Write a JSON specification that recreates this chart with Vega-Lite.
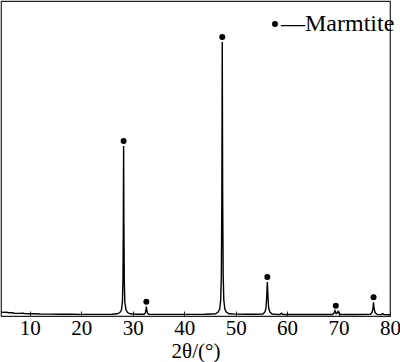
{
  "$schema": "https://vega.github.io/schema/vega-lite/v6.json",
  "width": 389,
  "height": 315,
  "autosize": "none",
  "padding": {"left": 1, "top": 1, "right": 10, "bottom": 46},
  "background": "white",
  "datasets": {
    "profile": [
      {"t": 4.4, "i": 4.0}, {"t": 4.8, "i": 3.6}, {"t": 5.3, "i": 3.7}, {"t": 6, "i": 3.2}, {"t": 6.6, "i": 3.3},
      {"t": 7, "i": 2.8}, {"t": 8, "i": 2.6}, {"t": 8.7, "i": 2.8}, {"t": 9, "i": 2.4}, {"t": 10, "i": 2.2},
      {"t": 11, "i": 2.2}, {"t": 12, "i": 2.0}, {"t": 14, "i": 1.9}, {"t": 16, "i": 1.8}, {"t": 18, "i": 1.7},
      {"t": 20, "i": 1.6}, {"t": 22, "i": 1.6}, {"t": 24, "i": 1.6}, {"t": 26, "i": 1.8}, {"t": 27.0, "i": 2.2},
      {"t": 27.5, "i": 3.5}, {"t": 27.8, "i": 6}, {"t": 28.0, "i": 14}, {"t": 28.1, "i": 35}, {"t": 28.17, "i": 90},
      {"t": 28.23, "i": 170}, {"t": 28.29, "i": 90}, {"t": 28.36, "i": 35}, {"t": 28.46, "i": 14}, {"t": 28.7, "i": 6},
      {"t": 29.0, "i": 3.5}, {"t": 29.5, "i": 2.2}, {"t": 30, "i": 2.0}, {"t": 31, "i": 1.8}, {"t": 32.2, "i": 1.7},
      {"t": 32.45, "i": 3}, {"t": 32.58, "i": 6}, {"t": 32.65, "i": 9.3}, {"t": 32.72, "i": 6}, {"t": 32.85, "i": 3},
      {"t": 33.1, "i": 1.7}, {"t": 35, "i": 1.6}, {"t": 38, "i": 1.6}, {"t": 41, "i": 1.6}, {"t": 44, "i": 1.7},
      {"t": 46.1, "i": 2.2}, {"t": 46.6, "i": 4}, {"t": 46.9, "i": 7}, {"t": 47.1, "i": 16}, {"t": 47.22, "i": 40},
      {"t": 47.32, "i": 120}, {"t": 47.4, "i": 274}, {"t": 47.48, "i": 120}, {"t": 47.58, "i": 40}, {"t": 47.7, "i": 16},
      {"t": 47.9, "i": 7}, {"t": 48.2, "i": 4}, {"t": 48.7, "i": 2.2}, {"t": 50, "i": 1.9}, {"t": 52, "i": 1.7},
      {"t": 54, "i": 1.7}, {"t": 55.3, "i": 2}, {"t": 55.7, "i": 4}, {"t": 55.9, "i": 8}, {"t": 56.03, "i": 18},
      {"t": 56.16, "i": 34}, {"t": 56.29, "i": 18}, {"t": 56.42, "i": 8}, {"t": 56.65, "i": 4}, {"t": 57.1, "i": 2},
      {"t": 58, "i": 1.6}, {"t": 58.6, "i": 1.5}, {"t": 58.9, "i": 2.8}, {"t": 59.2, "i": 1.5}, {"t": 60, "i": 1.5},
      {"t": 63, "i": 1.5}, {"t": 66, "i": 1.5}, {"t": 68.8, "i": 1.5}, {"t": 69.1, "i": 2.8}, {"t": 69.3, "i": 5.3},
      {"t": 69.5, "i": 2.5}, {"t": 69.65, "i": 2.4}, {"t": 69.9, "i": 4.5}, {"t": 70.15, "i": 2}, {"t": 70.5, "i": 1.5},
      {"t": 73, "i": 1.5}, {"t": 76.2, "i": 1.6}, {"t": 76.5, "i": 3.5}, {"t": 76.68, "i": 7}, {"t": 76.8, "i": 13.7},
      {"t": 76.92, "i": 7}, {"t": 77.1, "i": 3.5}, {"t": 77.5, "i": 1.6}, {"t": 78.3, "i": 1.4}, {"t": 78.57, "i": 2.3},
      {"t": 78.85, "i": 1.4}, {"t": 80, "i": 1.3}
    ],
    "peaks": [
      {"t": 28.23, "i": 170, "phase": "—Marmtite"},
      {"t": 32.65, "i": 9.3, "phase": "—Marmtite"},
      {"t": 47.4, "i": 274, "phase": "—Marmtite"},
      {"t": 56.16, "i": 34, "phase": "—Marmtite"},
      {"t": 69.47, "i": 5.3, "phase": "—Marmtite"},
      {"t": 76.8, "i": 13.7, "phase": "—Marmtite"}
    ]
  },
  "layer": [
    {
      "data": {"name": "profile"},
      "mark": {"type": "line", "color": "black", "strokeWidth": 1.4, "clip": true},
      "encoding": {
        "x": {
          "field": "t", "type": "quantitative",
          "scale": {"domain": [4.4, 80], "nice": false, "zero": false},
          "axis": {
            "values": [10, 20, 30, 40, 50, 60, 70, 80],
            "title": "2θ/(°)",
            "grid": false, "domain": false,
            "tickSize": -5, "tickColor": "#222", "tickWidth": 1,
            "labelFont": "Liberation Serif", "labelFontSize": 21, "labelColor": "black",
            "labelPadding": 6, "labelFlush": false, "labelOverlap": false,
            "titleFont": "Liberation Serif", "titleFontSize": 21, "titleFontWeight": "normal",
            "titleColor": "black", "titlePadding": 2
          }
        },
        "y": {
          "field": "i", "type": "quantitative",
          "scale": {"domain": [0, 315], "nice": false},
          "axis": null
        }
      }
    },
    {
      "data": {"name": "peaks"},
      "mark": {"type": "point", "filled": true, "shape": "circle", "size": 36, "opacity": 1, "yOffset": -5},
      "encoding": {
        "x": {"field": "t", "type": "quantitative"},
        "y": {"field": "i", "type": "quantitative"},
        "color": {
          "field": "phase", "type": "nominal",
          "scale": {"range": ["black"]},
          "legend": {
            "title": null, "orient": "none", "legendX": 262, "legendY": 11,
            "symbolType": "circle", "symbolSize": 36, "symbolFillColor": "black", "symbolStrokeWidth": 0,
            "labelFont": "Liberation Serif", "labelFontSize": 24, "labelColor": "black",
            "labelOffset": -6, "padding": 0
          }
        }
      }
    }
  ],
  "config": {
    "view": {"stroke": "#222", "strokeWidth": 1.2}
  }
}
